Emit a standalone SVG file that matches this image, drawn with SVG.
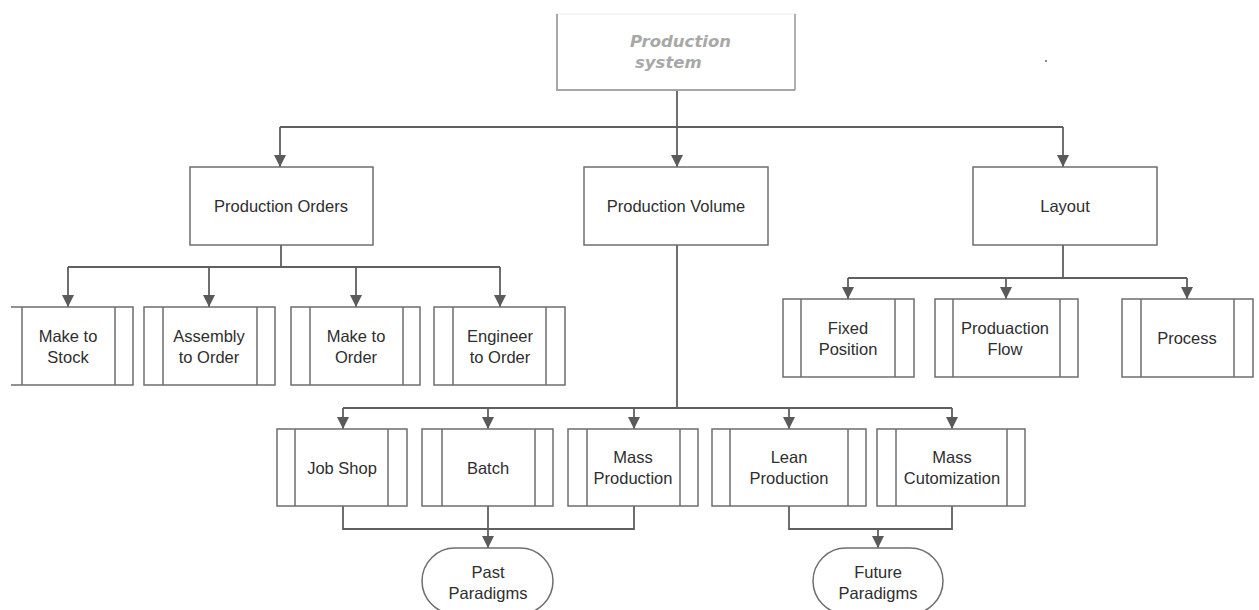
<svg xmlns="http://www.w3.org/2000/svg" width="1259" height="610" viewBox="0 0 1259 610">
  <style>
    .box { fill: #ffffff; stroke: #6e6e6e; stroke-width: 1.5; }
    .bar { fill: none; stroke: #6e6e6e; stroke-width: 1.5; }
    .lbl { font-family: "Liberation Sans", Arial, sans-serif; font-size: 16.5px; fill: #2e2e2e; text-anchor: middle; }
    .title { font-family: "DejaVu Sans", Verdana, sans-serif; font-size: 16.5px; font-weight: bold; font-style: italic; fill: #a8a8a8; }
    .wire { fill: none; stroke: #5f5f5f; stroke-width: 1.8; }
    .wire.arrow { marker-end: url(#tip); }
  </style>
  <defs>
    <marker id="tip" markerUnits="userSpaceOnUse" markerWidth="12" markerHeight="12" viewBox="0 0 10 10" refX="10" refY="5" orient="auto">
      <path d="M0,0 L10,5 L0,10 z" fill="#5a5a5a"/>
    </marker>
  </defs>
  <rect width="1259" height="610" fill="#ffffff"/>

  <!-- connectors -->
  <g id="connectors">
    <!-- root to first level -->
    <path class="wire" d="M677,90 V127 M280,127 H1063"/>
    <path class="wire arrow" d="M280,127 V167"/>
    <path class="wire arrow" d="M677,127 V167"/>
    <path class="wire arrow" d="M1063,127 V167"/>
    <!-- production orders -->
    <path class="wire" d="M281,245 V267 M68,267 H500"/>
    <path class="wire arrow" d="M68,267 V307"/>
    <path class="wire arrow" d="M209,267 V307"/>
    <path class="wire arrow" d="M356,267 V307"/>
    <path class="wire arrow" d="M500,267 V307"/>
    <!-- layout -->
    <path class="wire" d="M1063,245 V278 M848,278 H1187"/>
    <path class="wire arrow" d="M848,278 V299"/>
    <path class="wire arrow" d="M1006,278 V299"/>
    <path class="wire arrow" d="M1187,278 V299"/>
    <!-- production volume -->
    <path class="wire" d="M677,245 V408 M343,408 H952"/>
    <path class="wire arrow" d="M343,408 V429"/>
    <path class="wire arrow" d="M488,408 V429"/>
    <path class="wire arrow" d="M634,408 V429"/>
    <path class="wire arrow" d="M789,408 V429"/>
    <path class="wire arrow" d="M952,408 V429"/>
    <!-- paradigms -->
    <path class="wire" d="M343,506 V529 H634 V506"/>
    <path class="wire arrow" d="M488,506 V548"/>
    <path class="wire" d="M789,506 V529 H952 V506"/>
    <path class="wire arrow" d="M878,529 V548"/>
  </g>

  <!-- root -->
  <g id="production-system">
    <rect x="557" y="14" width="238" height="76" fill="#ffffff" stroke="#ececec" stroke-width="1"/>
    <path d="M557,14 V90 H795" fill="none" stroke="#a6a6a6" stroke-width="2"/>
    <path d="M795,14 V90" fill="none" stroke="#9a9a9a" stroke-width="1.5"/>
    <text class="title" x="630" y="47">Production</text>
    <text class="title" x="635" y="68">system</text>
  </g>
  <rect id="speck" x="1045" y="60" width="2" height="2" fill="#8a8a8a"/>

  <!-- first level -->
  <g id="production-orders">
    <rect class="box" x="190" y="167" width="183" height="78"/>
    <text class="lbl" x="281" y="212">Production Orders</text>
  </g>
  <g id="production-volume">
    <rect class="box" x="584" y="167" width="184" height="78"/>
    <text class="lbl" x="676" y="212">Production Volume</text>
  </g>
  <g id="layout">
    <rect class="box" x="973" y="167" width="184" height="78"/>
    <text class="lbl" x="1065" y="212">Layout</text>
  </g>

  <!-- production orders children -->
  <g id="make-to-stock">
    <path class="bar" d="M11,307 H133 V385 H11"/>
    <path class="bar" d="M22,307 V385 M115,307 V385"/>
    <text class="lbl" x="68" y="342">Make to</text>
    <text class="lbl" x="68" y="363">Stock</text>
  </g>
  <g id="assembly-to-order">
    <rect class="box" x="144" y="307" width="131" height="78"/>
    <path class="bar" d="M163,307 V385 M257,307 V385"/>
    <text class="lbl" x="209" y="342">Assembly</text>
    <text class="lbl" x="209" y="363">to Order</text>
  </g>
  <g id="make-to-order">
    <rect class="box" x="291" y="307" width="129" height="78"/>
    <path class="bar" d="M310,307 V385 M403,307 V385"/>
    <text class="lbl" x="356" y="342">Make to</text>
    <text class="lbl" x="356" y="363">Order</text>
  </g>
  <g id="engineer-to-order">
    <rect class="box" x="434" y="307" width="131" height="78"/>
    <path class="bar" d="M453,307 V385 M546,307 V385"/>
    <text class="lbl" x="500" y="342">Engineer</text>
    <text class="lbl" x="500" y="363">to Order</text>
  </g>

  <!-- layout children -->
  <g id="fixed-position">
    <rect class="box" x="783" y="299" width="131" height="78"/>
    <path class="bar" d="M801,299 V377 M895,299 V377"/>
    <text class="lbl" x="848" y="334">Fixed</text>
    <text class="lbl" x="848" y="355">Position</text>
  </g>
  <g id="production-flow">
    <rect class="box" x="935" y="299" width="143" height="78"/>
    <path class="bar" d="M953,299 V377 M1060,299 V377"/>
    <text class="lbl" x="1005" y="334">Produaction</text>
    <text class="lbl" x="1005" y="355">Flow</text>
  </g>
  <g id="process">
    <rect class="box" x="1122" y="299" width="131" height="78"/>
    <path class="bar" d="M1141,299 V377 M1234,299 V377"/>
    <text class="lbl" x="1187" y="344">Process</text>
  </g>

  <!-- production volume children -->
  <g id="job-shop">
    <rect class="box" x="277" y="429" width="130" height="77"/>
    <path class="bar" d="M295,429 V506 M388,429 V506"/>
    <text class="lbl" x="342" y="474">Job Shop</text>
  </g>
  <g id="batch">
    <rect class="box" x="422" y="429" width="131" height="77"/>
    <path class="bar" d="M442,429 V506 M535,429 V506"/>
    <text class="lbl" x="488" y="474">Batch</text>
  </g>
  <g id="mass-production">
    <rect class="box" x="568" y="429" width="130" height="77"/>
    <path class="bar" d="M587,429 V506 M680,429 V506"/>
    <text class="lbl" x="633" y="463">Mass</text>
    <text class="lbl" x="633" y="484">Production</text>
  </g>
  <g id="lean-production">
    <rect class="box" x="712" y="429" width="154" height="77"/>
    <path class="bar" d="M730,429 V506 M848,429 V506"/>
    <text class="lbl" x="789" y="463">Lean</text>
    <text class="lbl" x="789" y="484">Production</text>
  </g>
  <g id="mass-customization">
    <rect class="box" x="877" y="429" width="148" height="77"/>
    <path class="bar" d="M896,429 V506 M1007,429 V506"/>
    <text class="lbl" x="952" y="463">Mass</text>
    <text class="lbl" x="952" y="484">Cutomization</text>
  </g>

  <!-- paradigms -->
  <g id="past-paradigms">
    <rect class="box" x="422" y="548" width="131" height="66" rx="33" ry="33"/>
    <text class="lbl" x="488" y="578">Past</text>
    <text class="lbl" x="488" y="599">Paradigms</text>
  </g>
  <g id="future-paradigms">
    <rect class="box" x="813" y="548" width="130" height="66" rx="33" ry="33"/>
    <text class="lbl" x="878" y="578">Future</text>
    <text class="lbl" x="878" y="599">Paradigms</text>
  </g>
</svg>
